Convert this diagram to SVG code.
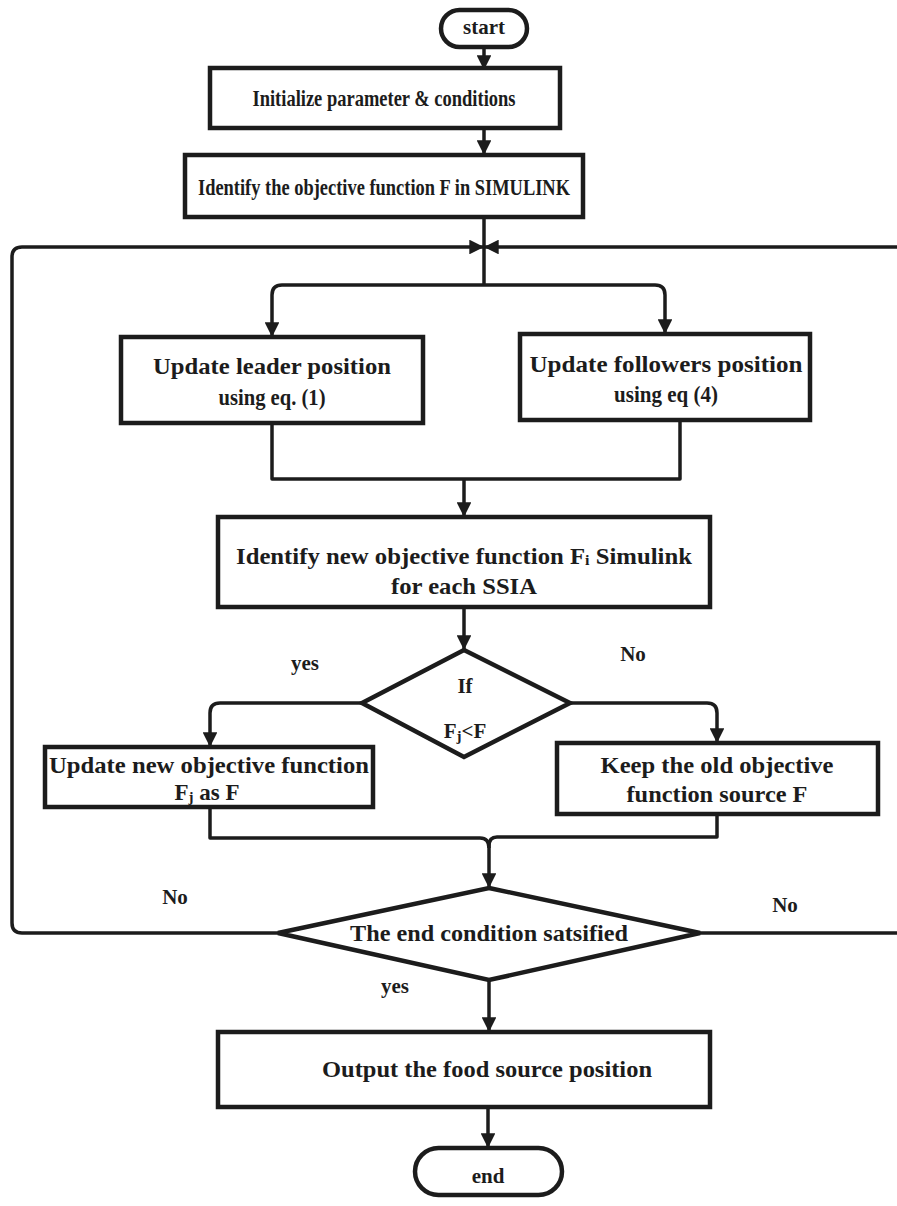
<svg xmlns="http://www.w3.org/2000/svg" width="897" height="1206" viewBox="0 0 897 1206">
<defs>
<marker id="ah" viewBox="0 0 10 10" refX="10" refY="5" markerWidth="5" markerHeight="4.2" orient="auto" markerUnits="strokeWidth">
<path d="M0,0 L10,5 L0,10 Z" fill="#1c1c1c"/>
</marker>
<style>
.n{fill:#fff;stroke:#1c1c1c;stroke-width:4.5}
.c{fill:none;stroke:#1c1c1c;stroke-width:3.5;stroke-linejoin:round}
.a{marker-end:url(#ah)}
text{font-family:"Liberation Serif","Times New Roman",serif;font-weight:bold;font-size:23px;fill:#1c1c1c;text-anchor:middle;dominant-baseline:central}
.l{font-size:21px}
.s{font-size:15px}
</style>
</defs>
<rect width="897" height="1206" fill="#fff"/>
<g id="connectors">
<path class="c a" d="M484,47 V70"/>
<path class="c a" d="M484,128 V155"/>
<path class="c" d="M484,217 V285"/>
<path class="c a" d="M484,285 H282 Q272,285 272,295 V337"/>
<path class="c a" d="M484,285 H655 Q665,285 665,295 V334"/>
<path class="c" d="M272,423 V479 H680 V420"/>
<path class="c a" d="M464,479 V517"/>
<path class="c a" d="M464,607 V650"/>
<path class="c a" d="M362,703 H220 Q210,703 210,713 V747"/>
<path class="c a" d="M570,703 H707 Q717,703 717,713 V743"/>
<path class="c" d="M210,807 V838 H480 Q489,838 489,848"/>
<path class="c" d="M717,814 V837 H497 Q489,837 489,846"/>
<path class="c a" d="M489,846 V888"/>
<path class="c a" d="M278,933 H22 Q12,933 12,923 V257 Q12,247 22,247 H484"/>
<path class="c a" d="M700,933 H905 V247 H484"/>
<path class="c a" d="M489,980 V1032"/>
<path class="c a" d="M488,1107 V1148"/>
</g>
<g id="start">
<rect class="n" x="441" y="10" width="86" height="37" rx="18.5"/>
<text class="l" x="484" y="27">start</text>
</g>
<g id="init">
<rect class="n" x="210" y="68" width="350" height="60"/>
<text x="384" y="98" textLength="263" lengthAdjust="spacingAndGlyphs">Initialize parameter &amp; conditions</text>
</g>
<g id="identify">
<rect class="n" x="185" y="155" width="398" height="62"/>
<text x="384" y="187" textLength="372" lengthAdjust="spacingAndGlyphs">Identify the objective function F in SIMULINK</text>
</g>
<g id="leader">
<rect class="n" x="121" y="337" width="302" height="86"/>
<text x="272" y="366" textLength="238" lengthAdjust="spacingAndGlyphs">Update leader position</text>
<text x="272" y="397" textLength="107" lengthAdjust="spacingAndGlyphs">using eq. (1)</text>
</g>
<g id="followers">
<rect class="n" x="520" y="334" width="290" height="86"/>
<text x="666" y="364" textLength="273" lengthAdjust="spacingAndGlyphs">Update followers position</text>
<text x="666" y="394" textLength="104" lengthAdjust="spacingAndGlyphs">using eq (4)</text>
</g>
<g id="newobj">
<rect class="n" x="218" y="517" width="492" height="90"/>
<text x="464" y="556" textLength="456" lengthAdjust="spacingAndGlyphs">Identify new objective function F<tspan class="s" dy="4">i</tspan><tspan dy="-4"> Simulink</tspan></text>
<text x="464" y="586" textLength="146" lengthAdjust="spacingAndGlyphs">for each SSIA</text>
</g>
<g id="if">
<path class="n" d="M464,650 L570,703 L464,757 L362,703 Z"/>
<text class="l" x="465" y="686">If</text>
<text class="l" x="465" y="731">F<tspan class="s" dy="5">j</tspan><tspan dy="-5">&lt;F</tspan></text>
</g>
<g id="update">
<rect class="n" x="45" y="747" width="328" height="60"/>
<text x="209" y="765" textLength="320" lengthAdjust="spacingAndGlyphs">Update new objective function</text>
<text x="207" y="792">F<tspan class="s" dy="5">j</tspan><tspan dy="-5"> as F</tspan></text>
</g>
<g id="keep">
<rect class="n" x="557" y="743" width="321" height="71"/>
<text x="717" y="765" textLength="233" lengthAdjust="spacingAndGlyphs">Keep the old objective</text>
<text x="717" y="794" textLength="181" lengthAdjust="spacingAndGlyphs">function source F</text>
</g>
<g id="endcond">
<path class="n" d="M489,888 L700,933 L489,980 L278,933 Z"/>
<text x="489" y="933" textLength="278" lengthAdjust="spacingAndGlyphs">The end condition satsified</text>
</g>
<g id="output">
<rect class="n" x="218" y="1032" width="492" height="75"/>
<text x="487" y="1069" textLength="330" lengthAdjust="spacingAndGlyphs">Output the food source position</text>
</g>
<g id="end">
<rect class="n" x="415" y="1148" width="147" height="47" rx="23.5"/>
<text class="l" x="488" y="1176">end</text>
</g>
<g id="labels">
<text class="l" x="305" y="663">yes</text>
<text class="l" x="633" y="654">No</text>
<text class="l" x="175" y="897">No</text>
<text class="l" x="785" y="905">No</text>
<text class="l" x="395" y="986">yes</text>
</g>
</svg>
